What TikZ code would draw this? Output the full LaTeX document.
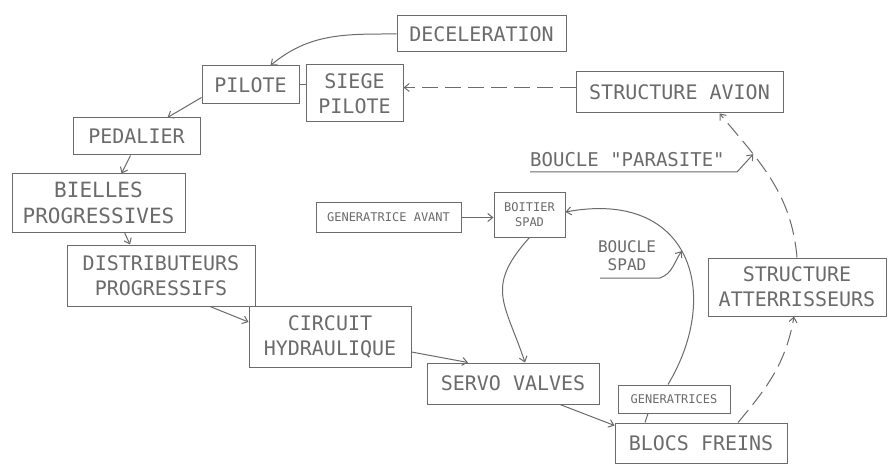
\documentclass[tikz,border=0pt]{standalone}
\usepackage{fontspec}
\newfontfamily\lett{DejaVu Sans Mono}
\usetikzlibrary{arrows.meta,calc}
\definecolor{ink}{gray}{0.42}
\begin{document}
\begin{tikzpicture}[x=1pt,y=1pt,
  box/.style={draw=ink, line width=1pt, text=ink, inner sep=0pt, align=center,
    font=\lett\fontsize{20}{25}\selectfont},
  smallbox/.style={box, font=\lett\fontsize{12}{15}\selectfont},
  lbl/.style={text=ink, inner sep=0pt, align=center},
  conn/.style={draw=ink, line width=1pt},
  arr/.style={conn, -{Straight Barb[length=5pt,width=8pt]}},
  darr/.style={arr, dash pattern=on 16pt off 7pt}
]
\fill[white] (0,0) rectangle (888,464);
\useasboundingbox (0,0) rectangle (888,464);

% boxes
\node[box, minimum width=169pt, minimum height=36pt] (dec) at (481.5,430) {DECELERATION};
\node[box, minimum width=97pt, minimum height=38pt] (pil) at (250.5,379) {PILOTE};
\node[box, minimum width=97pt, minimum height=57pt] (sie) at (354.5,370.5) {SIEGE\\PILOTE};
\node[box, minimum width=207pt, minimum height=41pt] (sav) at (679.5,371.5) {STRUCTURE AVION};
\node[box, minimum width=127pt, minimum height=37pt] (ped) at (136.5,327.5) {PEDALIER};
\node[box, minimum width=173pt, minimum height=58pt,
      font=\lett\fontsize{21}{26}\selectfont] (bie) at (98.5,261) {BIELLES\\PROGRESSIVES};
\node[box, minimum width=188pt, minimum height=61pt] (dis) at (161,188.5) {DISTRIBUTEURS\\PROGRESSIFS};
\node[smallbox, minimum width=145pt, minimum height=29pt] (gav) at (388.5,246.5) {GENERATRICE AVANT};
\node[smallbox, minimum width=71pt, minimum height=44pt] (boi) at (529.5,249) {BOITIER\\SPAD};
\node[box, minimum width=178pt, minimum height=58pt] (satt) at (797,177) {STRUCTURE\\ATTERRISSEURS};
\node[box, minimum width=162pt, minimum height=61pt] (cir) at (330,127) {CIRCUIT\\HYDRAULIQUE};
\node[box, minimum width=172pt, minimum height=41pt] (ser) at (513,80.5) {SERVO VALVES};
\node[smallbox, minimum width=112pt, minimum height=28pt] (gen) at (674,65) {GENERATRICES};
\node[box, minimum width=172pt, minimum height=40pt] (blo) at (701,21) {BLOCS FREINS};

% labels
\node[lbl, anchor=base west, font=\lett\fontsize{19}{23}\selectfont] (par) at (530,297) {BOUCLE "PARASITE"};
\node[lbl, font=\lett\fontsize{16}{18}\selectfont] (bsp) at (627,208) {BOUCLE\\SPAD};

% main chain
\draw[arr] (dec.west) to[out=180,in=40] ([xshift=20pt]pil.north);
\draw[arr] ([yshift=7pt]pil.south west) -- ([xshift=31pt]ped.north);
\draw[conn] (pil.east) -- (pil.east -| sie.west);
\draw[darr] ([yshift=5pt]sav.west) -- ([yshift=5pt]sav.west -| sie.east);
\draw[arr] ([xshift=-6pt]ped.south) -- ([xshift=23pt]bie.north);
\draw[arr] ([xshift=26pt]bie.south) -- ([xshift=-31pt]dis.north);
\draw[arr] ([xshift=49pt]dis.south) -- ([yshift=15pt]cir.west);
\draw[arr] ([yshift=-15pt]cir.east) -- ([xshift=-45pt]ser.north);
\draw[arr] ([xshift=47pt]ser.south) -- ([yshift=-3pt]blo.north west);

% SPAD loop
\draw[arr] (gav.east) -- (gav.east -| boi.west);
\draw[arr] (boi.south) .. controls +(-45pt,-50pt) and +(-20pt,60pt) .. ([xshift=12pt]ser.north);
\draw[arr] ([xshift=-6pt]gen.north) .. controls +(55pt,92pt) and +(124pt,23pt) .. ([yshift=3pt]boi.east)
  coordinate[pos=0.52] (spadpt);
\draw[conn] ([xshift=-26pt]gen.south) -- ([xshift=-56pt]blo.north);

% parasitic loop
\draw[darr] ([xshift=37pt]blo.north) to[out=50,in=-100] ([xshift=-3pt]satt.south);
\draw[darr] (satt.north) to[out=95,in=-50] coordinate[pos=0.7] (parpt) ([xshift=40pt]sav.south);

% leaders
\draw[arr] ([yshift=-5pt]par.base west) -- ([yshift=-5pt,xshift=207pt]par.base west) -- (parpt);
\draw[arr] ([xshift=-27pt,yshift=-22pt]bsp.center) -- ([xshift=33pt,yshift=-22pt]bsp.center)
  to[out=20,in=235] (spadpt);
\end{tikzpicture}
\end{document}
